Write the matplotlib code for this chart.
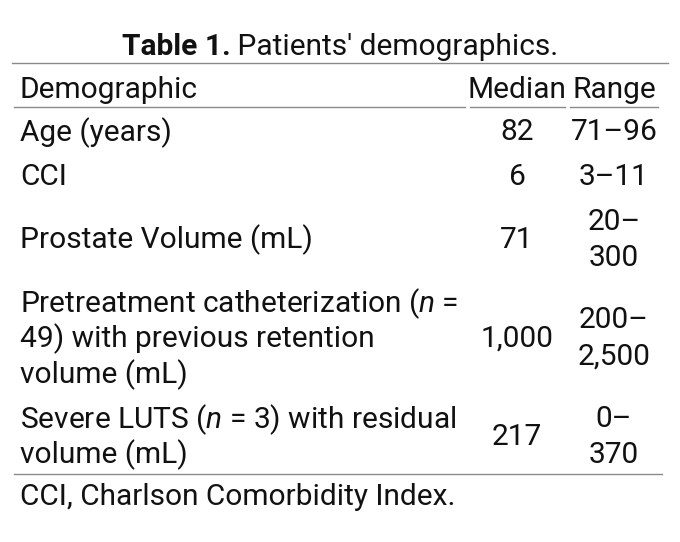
import matplotlib
matplotlib.use("Agg")
import matplotlib.pyplot as plt

plt.rcParams['font.family'] = ['Roboto', 'DejaVu Sans']
plt.rcParams['mathtext.fontset'] = 'custom'
plt.rcParams['mathtext.rm'] = 'Roboto'
plt.rcParams['mathtext.it'] = 'Roboto:italic'
plt.rcParams['mathtext.bf'] = 'Roboto:bold'

# table content
title_bold = "Table 1."
title_rest = "Patients′ demographics."
headers = ["Demographic", "Median", "Range"]
demographics = [
    ["Age (years)"],
    ["CCI"],
    ["Prostate Volume (mL)"],
    ["Pretreatment catheterization ($n$ =", "49) with previous retention", "volume (mL)"],
    ["Severe LUTS ($n$ = 3) with residual", "volume (mL)"],
]
medians = ["82", "6", "71", "1,000", "217"]
ranges = [["71–96"], ["3–11"], ["20–", "300"], ["200–", "2,500"], ["0–", "370"]]
footnote = "CCI, Charlson Comorbidity Index."

W, H = 680, 542
fig = plt.figure(figsize=(W / 100, H / 100), dpi=100)
ax = fig.add_axes([0, 0, 1, 1])
ax.set_xlim(0, W)
ax.set_ylim(H, 0)
ax.axis('off')

fs = 21.5
txt = '#111111'
rule = '#8a8a8a'
line_h = 36
pad = 8.6
x_label = 20
x_med = 517
x_rng = 614
va = 'center_baseline'

# title: bold part + regular part, centred together
r = fig.canvas.get_renderer()
t1 = ax.text(0, 0, title_bold, fontsize=fs, fontweight='bold')
t2 = ax.text(0, 0, " " + title_rest, fontsize=fs)
w1 = t1.get_window_extent(r).width
w2 = t2.get_window_extent(r).width
t1.remove()
t2.remove()
x0 = W / 2 - (w1 + w2) / 2
ax.text(x0, 44, title_bold, ha='left', va=va, fontsize=fs, fontweight='bold', color=txt)
ax.text(x0 + w1, 44, " " + title_rest, ha='left', va=va, fontsize=fs, color=txt)
ax.plot([12, 668], [63, 63], color=rule, lw=1)

ax.text(x_label, 87, headers[0], ha='left', va=va, fontsize=fs, color=txt)
ax.text(x_med, 87, headers[1], ha='center', va=va, fontsize=fs, color=txt)
ax.text(x_rng, 87, headers[2], ha='center', va=va, fontsize=fs, color=txt)
for a, b in [(14, 465), (470, 565), (570, 658)]:
    ax.plot([a, b], [107, 107], color=rule, lw=1)

y = 107
for lab, med, rng in zip(demographics, medians, ranges):
    n = max(len(lab), len(rng))
    h = pad + n * line_h
    yc = y + h / 2
    for i, s in enumerate(lab):
        yy = yc + (i - (len(lab) - 1) / 2) * line_h
        ax.text(x_label, yy, s, ha='left', va=va, fontsize=fs, color=txt)
    ax.text(x_med, yc, med, ha='center', va=va, fontsize=fs, color=txt)
    for i, s in enumerate(rng):
        yy = yc + (i - (len(rng) - 1) / 2) * line_h
        ax.text(x_rng, yy, s, ha='center', va=va, fontsize=fs, color=txt)
    y += h

ax.plot([14, 662], [474, 474], color=rule, lw=1)
ax.text(x_label, 494, footnote, ha='left', va=va, fontsize=fs, color=txt)

fig.savefig('out.png', dpi=100, facecolor='white')
